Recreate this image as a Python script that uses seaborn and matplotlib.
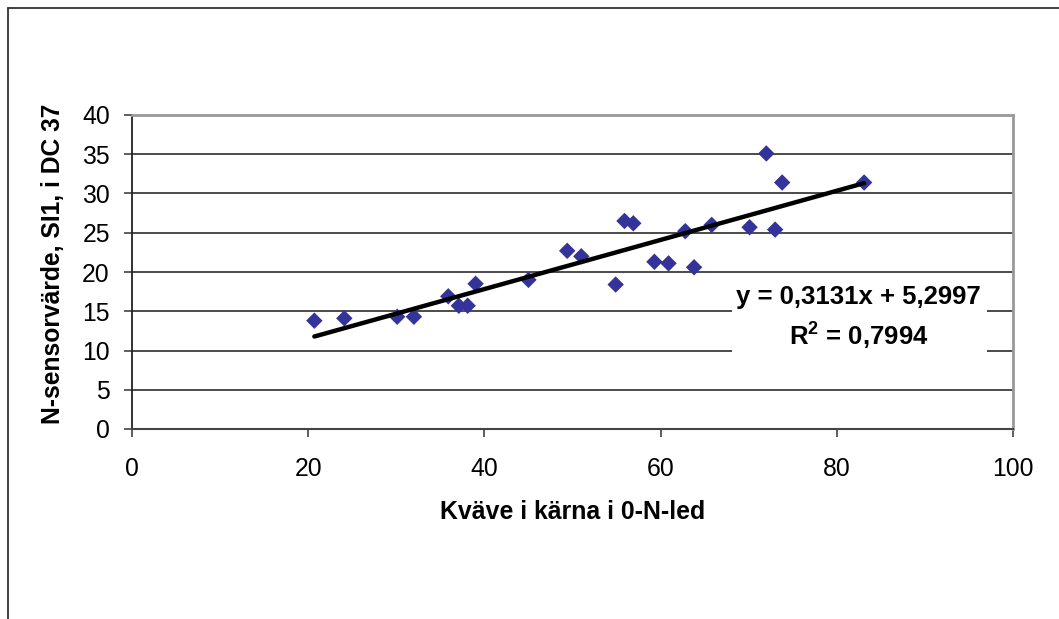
import matplotlib
matplotlib.use("Agg")
import matplotlib.pyplot as plt
from matplotlib.lines import Line2D
from matplotlib.patches import Rectangle
import seaborn as sns
import pandas as pd

# Data
kvave = [20.7, 24.1, 30.1, 32.0, 35.9, 37.1, 38.1, 39.0, 45.0, 49.4,
         51.0, 54.9, 55.9, 56.9, 59.3, 60.9, 62.8, 63.8, 65.8, 70.1,
         72.0, 73.0, 73.8, 83.1]
sensor = [13.8, 14.1, 14.3, 14.3, 16.9, 15.7, 15.7, 18.5, 19.0, 22.7,
          22.0, 18.4, 26.5, 26.2, 21.3, 21.1, 25.2, 20.6, 26.0, 25.7,
          35.1, 25.4, 31.4, 31.4]
slope = 0.3131
intercept = 5.2997
r2 = 0.7994
x_ticks = [0, 20, 40, 60, 80, 100]
y_ticks = [0, 5, 10, 15, 20, 25, 30, 35, 40]

df = pd.DataFrame({"x": kvave, "y": sensor})
x_ends = [min(kvave), max(kvave)]
trend = pd.DataFrame({"x": x_ends, "y": [slope * v + intercept for v in x_ends]})

sns.set_theme(style="white")
plt.rcParams["font.family"] = ["Liberation Sans", "DejaVu Sans"]
plt.rcParams["text.color"] = "black"
plt.rcParams["axes.labelcolor"] = "black"

fig = plt.figure(figsize=(10.59, 6.19), dpi=100)
ax = fig.add_axes([132 / 1059, 1 - 429 / 619, 881 / 1059, 314 / 619])

for yt in y_ticks[1:-1]:
    ax.axhline(yt, color="#1a1a1a", lw=1.1, zorder=0)

sns.scatterplot(data=df, x="x", y="y", marker="D", s=70, color="#333399",
                edgecolor="none", ax=ax, zorder=3)
sns.lineplot(data=trend, x="x", y="y", color="black", lw=3.2, ax=ax, zorder=4)

ax.set_xlim(0, 100)
ax.set_ylim(0, 40)
ax.set_xticks(x_ticks)
ax.set_yticks(y_ticks)
ax.set_xticklabels([str(v) for v in x_ticks])
ax.set_yticklabels([str(v) for v in y_ticks])
ax.tick_params(axis="both", which="major", direction="out", length=6,
               width=1.1, color="#333333", labelsize=17.8, labelcolor="black",
               left=True, bottom=True)
ax.tick_params(axis="y", pad=10)
ax.tick_params(axis="x", pad=14)

ax.spines["left"].set_color("#222222")
ax.spines["left"].set_linewidth(1.3)
ax.spines["bottom"].set_color("#444444")
ax.spines["bottom"].set_linewidth(1.5)
for s in ("top", "right"):
    ax.spines[s].set_color("#999999")
    ax.spines[s].set_linewidth(2.0)
    ax.spines[s].set_visible(True)

ax.set_xlabel("Kväve i kärna i 0-N-led", fontsize=17.9, fontweight="bold")
ax.set_ylabel("N-sensorvärde, SI1, i DC 37", fontsize=17.7, fontweight="bold")
ax.xaxis.set_label_coords(0.5, -0.264)
ax.xaxis.label.set_va("center")
ax.yaxis.set_label_coords(-0.0897, 0.525)
ax.yaxis.label.set_va("center")

# white box behind the trendline equation
ax.add_patch(Rectangle((0.681, 0.22), 0.29, 0.255, transform=ax.transAxes,
                       facecolor="white", edgecolor="none", zorder=1))
ax.text(0.824, 0.420, f"y = {slope:.4f}x + {intercept:.4f}".replace(".", ","),
        transform=ax.transAxes, ha="center", va="center", fontsize=18.5,
        fontweight="bold", zorder=5)
ax.text(0.8245, 0.299, "R" + r"$^{\mathregular{2}}$" + " = " + f"{r2:.4f}".replace(".", ","),
        transform=ax.transAxes, ha="center", va="center", fontsize=18.5,
        fontweight="bold", zorder=5)

# outer chart frame (left and top edges visible)
fig.add_artist(Line2D([7.5 / 1059, 7.5 / 1059], [0, 1 - 8 / 619],
                      transform=fig.transFigure, color="#333333", lw=1.3))
fig.add_artist(Line2D([7.5 / 1059, 1], [1 - 8 / 619, 1 - 8 / 619],
                      transform=fig.transFigure, color="#333333", lw=1.3))

fig.savefig("out.png", dpi=100, facecolor="white")
